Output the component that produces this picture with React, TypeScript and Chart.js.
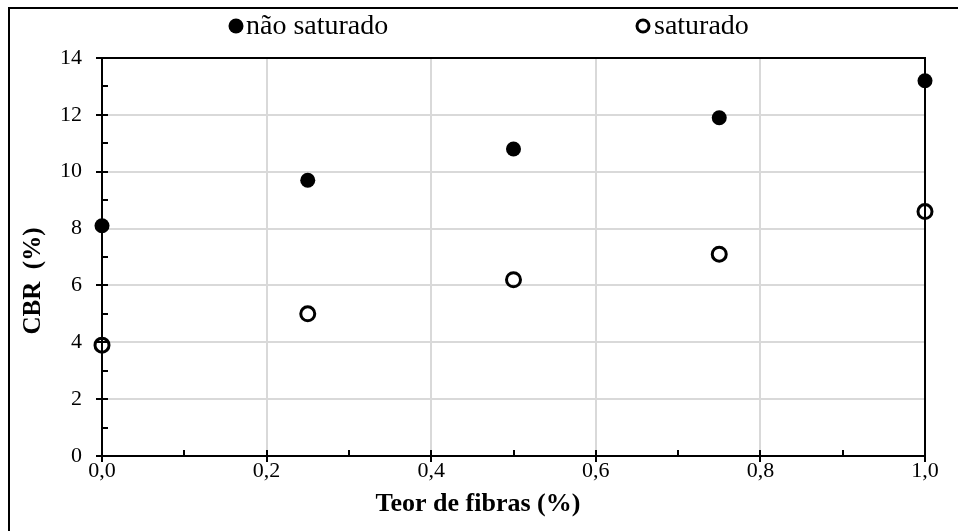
import React, { useEffect, useRef } from "react";
import { Chart, registerables } from "chart.js";

Chart.register(...registerables);

const fiberContent = [0, 0.25, 0.5, 0.75, 1.0];
const cbrUnsaturated = [8.1, 9.7, 10.8, 11.9, 13.2];
const cbrSaturated = [3.9, 5.0, 6.2, 7.1, 8.6];
const seriesNames = ["não saturado", "saturado"];
const xTitle = "Teor de fibras (%)";
const yTitle = "CBR  (%)";
const xMin = 0, xMax = 1, xStep = 0.2, xMinorStep = 0.1;
const yMin = 0, yMax = 14, yStep = 2, yMinorStep = 1;

const FONT = "'Liberation Serif', 'Times New Roman', serif";

const decoPlugin = {
  id: "deco",
  beforeDatasetsDraw(chart: any) {
    const { ctx, chartArea: a, scales } = chart;
    const xs = scales.x, ys = scales.y;
    ctx.save();
    ctx.strokeStyle = "#000";
    ctx.lineWidth = 2;
    ctx.strokeRect(a.left, a.top, a.right - a.left, a.bottom - a.top);
    ctx.beginPath();
    for (let v = xMin; v <= xMax + 1e-9; v += xMinorStep) {
      const px = Math.round(xs.getPixelForValue(v));
      const major = Math.abs(v / xStep - Math.round(v / xStep)) < 1e-6;
      if (major) {
        ctx.moveTo(px, a.bottom - 6);
        ctx.lineTo(px, a.bottom + 6);
      } else {
        ctx.moveTo(px, a.bottom);
        ctx.lineTo(px, a.bottom - 6);
      }
    }
    for (let v = yMin; v <= yMax + 1e-9; v += yMinorStep) {
      const py = Math.round(ys.getPixelForValue(v));
      const major = Math.abs(v / yStep - Math.round(v / yStep)) < 1e-6;
      if (major) {
        ctx.moveTo(a.left - 6, py);
        ctx.lineTo(a.left + 6, py);
      } else {
        ctx.moveTo(a.left, py);
        ctx.lineTo(a.left + 6, py);
      }
    }
    ctx.stroke();
    ctx.restore();
  },
  afterDraw(chart: any) {
    const { ctx } = chart;
    ctx.save();
    ctx.fillStyle = "#000";
    ctx.strokeStyle = "#000";
    // axis titles
    ctx.font = `bold 26px ${FONT}`;
    ctx.textAlign = "center";
    ctx.textBaseline = "middle";
    ctx.fillText(xTitle, 468, 495);
    ctx.font = `bold 25px ${FONT}`;
    ctx.save();
    ctx.translate(24, 272);
    ctx.rotate(-Math.PI / 2);
    ctx.fillText(yTitle, 0, 0);
    ctx.restore();
    // legend
    ctx.font = `28px ${FONT}`;
    ctx.textAlign = "left";
    const ly = 17;
    const items = [
      { cx: 226, tx: 236, filled: true, text: seriesNames[0] },
      { cx: 633, tx: 644, filled: false, text: seriesNames[1] },
    ];
    items.forEach((it) => {
      ctx.beginPath();
      if (it.filled) {
        ctx.arc(it.cx, ly, 7.5, 0, Math.PI * 2);
        ctx.fill();
      } else {
        ctx.lineWidth = 3;
        ctx.arc(it.cx, ly, 6, 0, Math.PI * 2);
        ctx.stroke();
      }
      ctx.fillText(it.text, it.tx, ly + 1);
    });
    ctx.restore();
  },
};

export default function App() {
  const ref = useRef<HTMLCanvasElement>(null);
  useEffect(() => {
    if (!ref.current) return;
    const chart = new Chart(ref.current, {
      type: "scatter",
      data: {
        datasets: [
          {
            label: seriesNames[0],
            data: fiberContent.map((x, i) => ({ x, y: cbrUnsaturated[i] })),
            backgroundColor: "#000",
            borderColor: "#000",
            pointRadius: 7.5,
            pointBorderWidth: 0,
          },
          {
            label: seriesNames[1],
            data: fiberContent.map((x, i) => ({ x, y: cbrSaturated[i] })),
            backgroundColor: "rgba(0,0,0,0)",
            borderColor: "#000",
            pointRadius: 7,
            pointBorderWidth: 3,
          },
        ],
      },
      options: {
        animation: false,
        responsive: false,
        maintainAspectRatio: false,
        clip: false as any,
        layout: { padding: { left: 0, top: 49, right: 35, bottom: 0 } },
        plugins: { legend: { display: false }, tooltip: { enabled: false } },
        scales: {
          x: {
            type: "linear",
            min: xMin,
            max: xMax,
            ticks: {
              stepSize: xStep,
              color: "#000",
              padding: 2,
              font: { family: FONT, size: 22 },
              callback: (v: any) => Number(v).toFixed(1).replace(".", ","),
            },
            grid: { color: "#d9d9d9", lineWidth: 2, drawTicks: false },
            border: { display: false },
            afterFit: (s: any) => { s.height = 77; },
          },
          y: {
            type: "linear",
            min: yMin,
            max: yMax,
            ticks: {
              stepSize: yStep,
              color: "#000",
              padding: 20,
              font: { family: FONT, size: 22 },
            },
            grid: { color: "#d9d9d9", lineWidth: 2, drawTicks: false },
            border: { display: false },
            afterFit: (s: any) => { s.width = 92; },
          },
        },
      },
      plugins: [decoPlugin],
    });
    return () => chart.destroy();
  }, []);
  return (
    <div
      style={{
        position: "absolute",
        left: 8,
        top: 7,
        width: 960,
        height: 534,
        border: "2px solid #000",
        background: "#fff",
      }}
    >
      <canvas ref={ref} width={950} height={524} style={{ display: "block" }} />
    </div>
  );
}
